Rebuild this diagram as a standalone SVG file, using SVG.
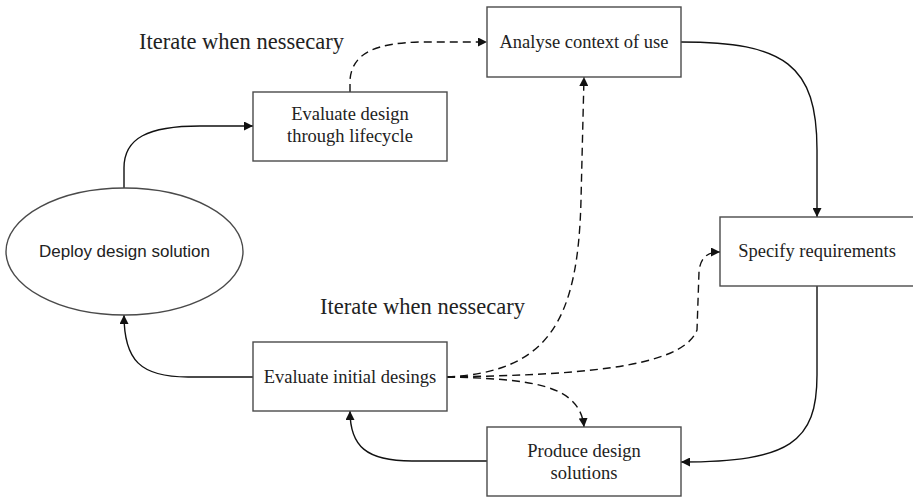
<svg xmlns="http://www.w3.org/2000/svg" width="913" height="497" viewBox="0 0 913 497">
  <style>
    .box { fill: #ffffff; stroke: #4a4a4a; stroke-width: 1.4; }
    .lbl { font-family: "Liberation Serif", "Times New Roman", serif; font-size: 18.5px; fill: #222; text-anchor: middle; }
    .note { font-family: "Liberation Serif", "Times New Roman", serif; font-size: 22.5px; fill: #222; }
    .sans { font-family: "Liberation Sans", Arial, sans-serif; font-size: 17px; fill: #222; text-anchor: middle; }
    .link { fill: none; stroke: #111; stroke-width: 1.4; marker-end: url(#arrow); }
    .dash { stroke-dasharray: 8 5; }
  </style>
  <defs>
    <marker id="arrow" viewBox="0 0 10 10" refX="10" refY="5" markerWidth="9" markerHeight="9" markerUnits="userSpaceOnUse" orient="auto">
      <path d="M0,0 L10,5 L0,10 Z" fill="#111"/>
    </marker>
  </defs>

  <rect width="913" height="497" fill="#ffffff"/>

  <text class="note" x="139" y="49">Iterate when nessecary</text>
  <text class="note" x="320" y="314">Iterate when nessecary</text>

  <g id="connectors">
    <!-- deploy -> evaluate through lifecycle -->
    <path class="link" d="M124,188 L124,168 C124,138 148,126 200,126 L253,126"/>
    <!-- lifecycle evaluation -> analyse context (iterate) -->
    <path class="link dash" d="M350,92 L350,80 C352,52 378,43 420,42 L487,42"/>
    <!-- analyse -> specify -->
    <path class="link" d="M681,42 C785,42 817,65 817,150 L817,217"/>
    <!-- specify -> produce -->
    <path class="link" d="M817,286 L817,375 C817,442 790,462 681,462"/>
    <!-- produce -> evaluate initial -->
    <path class="link" d="M487,461 L412,461 C366,461 350,446 350,411"/>
    <!-- evaluate initial -> deploy -->
    <path class="link" d="M253,377 L188,377 C140,377 124,360 124,315"/>
    <!-- evaluate initial -> analyse (iterate) -->
    <path class="link dash" d="M447,377 C548,372 578,322 581,200 L584,77"/>
    <!-- evaluate initial -> specify (iterate) -->
    <path class="link dash" d="M447,377 C565,375 682,370 697,330 L699,272 C700,258 707,252 720,252"/>
    <!-- evaluate initial -> produce (iterate) -->
    <path class="link dash" d="M447,377 C530,379 580,384 584,427"/>
  </g>

  <g id="analyse">
    <rect class="box" x="487" y="7" width="194" height="70"/>
    <text class="lbl" x="584" y="48">Analyse context of use</text>
  </g>

  <g id="lifecycle">
    <rect class="box" x="253" y="92" width="194" height="69"/>
    <text class="lbl" x="350" y="120">Evaluate design</text>
    <text class="lbl" x="350" y="142">through lifecycle</text>
  </g>

  <g id="specify">
    <rect class="box" x="720" y="217" width="194" height="69"/>
    <text class="lbl" x="817" y="257">Specify requirements</text>
  </g>

  <g id="deploy">
    <ellipse class="box" cx="124.5" cy="251.5" rx="118.5" ry="63.5"/>
    <text class="sans" x="124.5" y="257">Deploy design solution</text>
  </g>

  <g id="initial">
    <rect class="box" x="253" y="342" width="194" height="69"/>
    <text class="lbl" x="350" y="383">Evaluate initial desings</text>
  </g>

  <g id="produce">
    <rect class="box" x="487" y="427" width="194" height="69"/>
    <text class="lbl" x="584" y="457">Produce design</text>
    <text class="lbl" x="584" y="479">solutions</text>
  </g>
</svg>
